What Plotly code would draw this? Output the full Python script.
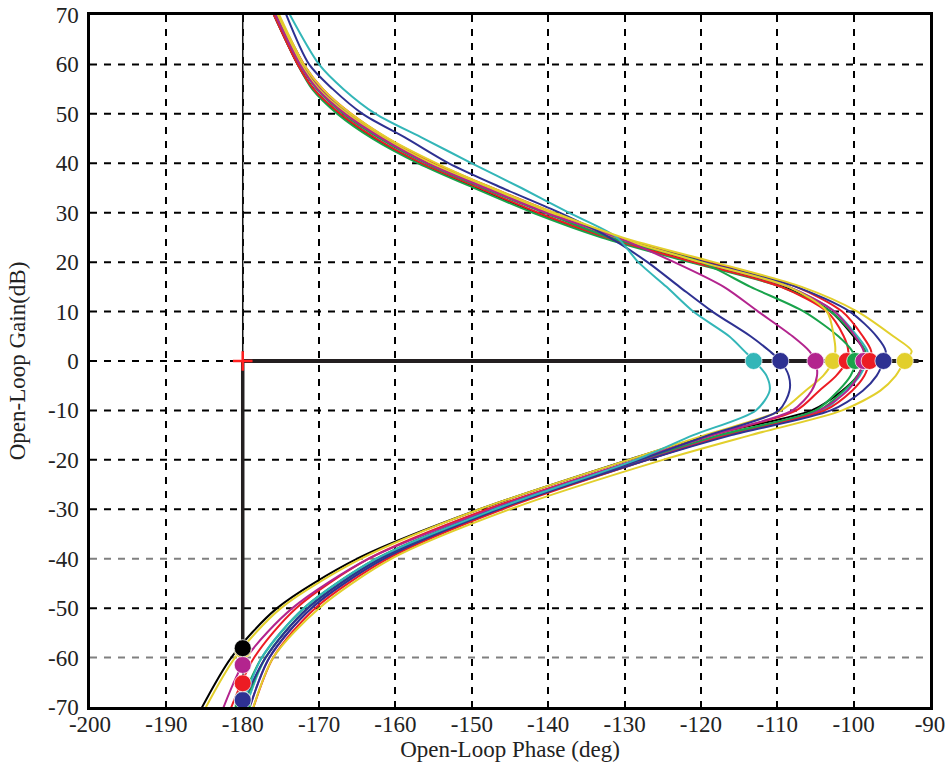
import plotly.graph_objects as go

# ---------------- data ----------------
gain_db = [72, 60, 55, 50, 45, 40, 35, 30, 25, 20, 15, 10, 5, 2, 0, -3, -6, -10, -15, -20, -30, -40, -50, -60, -72]

cyan_a    = [-174.5, -170.0, -166.8, -162.6, -156.3, -150.0, -143.5, -137.3, -131.0, -128.2, -124.5, -121.0, -116.3, -114.3, -113.0, -111.4, -111.0, -112.8, -121.0, -128.5, -147.0, -162.5, -172.0, -177.5, -180.5]
navy_a    = [-174.8, -171.3, -168.2, -164.3, -158.5, -153.0, -146.0, -138.5, -132.0, -127.0, -122.8, -118.5, -113.5, -111.0, -109.6, -108.5, -108.4, -109.8, -119.0, -128.0, -147.0, -162.0, -171.5, -177.0, -180.8]
magenta_a = [-176.3, -172.5, -170.2, -166.6, -161.7, -155.8, -148.2, -140.3, -131.0, -123.5, -117.0, -112.5, -108.0, -105.8, -105.0, -104.8, -105.5, -108.0, -118.5, -128.5, -147.5, -163.5, -173.5, -179.5, -183.0]
yellow_a  = [-176.0, -172.3, -170.0, -166.3, -161.4, -155.3, -147.8, -139.8, -131.0, -120.0, -108.5, -103.5, -102.6, -102.4, -102.7, -104.0, -106.3, -109.5, -119.5, -129.5, -149.0, -164.5, -175.0, -181.0, -185.5]
red_a     = [-176.5, -172.8, -170.7, -167.2, -162.5, -156.5, -149.0, -141.3, -132.3, -121.0, -109.5, -103.5, -101.3, -100.7, -100.9, -102.3, -104.5, -107.5, -118.5, -128.5, -148.0, -163.5, -173.0, -178.5, -182.0]
green_a   = [-176.3, -172.5, -170.3, -166.8, -162.0, -156.0, -148.5, -140.5, -132.0, -120.0, -113.5, -106.5, -102.0, -100.2, -99.8, -100.4, -102.0, -105.0, -117.5, -128.0, -147.0, -162.0, -171.5, -177.0, -180.5]
magenta_b = [-176.0, -172.0, -169.8, -166.3, -161.5, -155.5, -148.0, -140.0, -131.5, -120.0, -108.5, -102.5, -99.8, -98.7, -98.7, -99.4, -100.8, -104.5, -117.0, -127.5, -146.5, -161.5, -171.0, -176.5, -179.5]
red_b     = [-176.0, -172.0, -169.5, -165.8, -161.0, -154.8, -147.3, -139.3, -130.8, -119.0, -107.5, -101.5, -98.8, -97.7, -97.9, -98.6, -100.2, -103.8, -116.5, -127.0, -146.0, -161.0, -170.5, -176.0, -179.0]
navy_b    = [-176.2, -172.3, -170.0, -166.4, -161.6, -155.5, -148.0, -140.0, -131.3, -119.5, -107.5, -100.5, -97.0, -95.8, -96.1, -97.0, -98.8, -103.0, -116.0, -127.0, -146.5, -161.5, -171.0, -176.5, -179.5]
yellow_b  = [-175.8, -172.0, -169.5, -165.8, -160.9, -154.6, -147.3, -139.2, -130.3, -118.3, -106.8, -99.5, -94.8, -92.4, -93.3, -94.5, -96.5, -101.5, -113.5, -125.0, -145.0, -160.5, -170.0, -176.0, -179.0]
black_c   = [-176.5, -172.8, -170.7, -167.3, -162.7, -156.8, -149.3, -141.5, -132.3, -120.5, -109.0, -103.0, -100.0, -98.5, -98.5, -99.5, -101.5, -105.5, -119.0, -129.5, -149.0, -165.0, -175.5, -181.5, -186.0]
cyan_b    = [-176.0, -172.0, -169.7, -166.2, -161.4, -155.3, -147.8, -139.8, -131.0, -120.0, -108.5, -102.5, -99.5, -98.2, -98.3, -99.2, -101.0, -104.0, -117.0, -127.0, -146.5, -162.0, -171.5, -177.0, -180.0]
green_b   = [-176.5, -172.8, -170.9, -167.6, -163.0, -157.0, -149.7, -142.0, -133.0, -121.5, -109.5, -103.0, -99.8, -98.5, -98.6, -99.5, -101.3, -104.5, -117.5, -127.5, -147.0, -162.5, -172.0, -177.5, -181.0]

CYAN, NAVY, MAGENTA, YELLOW, RED, GREEN, BLACK = "#33b6b8", "#2e3192", "#b3248e", "#e2cf2c", "#ec1c24", "#19a34b", "#000000"

# curves in drawing order: (phase list, colour)
curves = [
    (black_c, BLACK), (green_b, GREEN), (cyan_b, CYAN), (magenta_b, MAGENTA),
    (red_b, RED), (navy_b, NAVY), (red_a, RED), (green_a, GREEN),
    (yellow_a, YELLOW), (magenta_a, MAGENTA), (navy_a, NAVY), (cyan_a, CYAN),
    (yellow_b, YELLOW),
]

# 0 dB crossing markers (phase), in drawing order
pm_phase  = [-98.5, -98.3, -98.6, -113.1, -109.6, -105.0, -102.7, -100.9, -99.8, -98.7, -97.9, -96.1, -93.3]
pm_colors = [BLACK, CYAN, GREEN, CYAN, NAVY, MAGENTA, YELLOW, RED, GREEN, MAGENTA, RED, NAVY, YELLOW]

# -180 deg crossing markers (gain), in drawing order
gm_gain   = [-58.5, -68.5, -70.0, -68.6, -65.2, -61.5, -58.1]
gm_colors = [YELLOW, GREEN, GREEN, NAVY, RED, MAGENTA, BLACK]

crit_phase = -180
zero_gain = 0
zero_line_end = -91.5
top_gain = 70

x_ticks = list(range(-200, -89, 10))
y_ticks = list(range(-70, 71, 10))
x_ticktext = [str(v) for v in x_ticks]
y_ticktext = [str(v) for v in y_ticks]

FONT = "Liberation Serif, Times New Roman, serif"

fig = go.Figure()

for ph, col in curves:
    fig.add_trace(go.Scatter(x=ph, y=gain_db, mode="lines",
                             line=dict(color=col, width=2, shape="spline", smoothing=0.8),
                             hoverinfo="skip", showlegend=False))

# reference lines
fig.add_trace(go.Scatter(x=[crit_phase, crit_phase], y=[zero_gain, top_gain], mode="lines",
                         line=dict(color="#111", width=1.5), showlegend=False, hoverinfo="skip"))
fig.add_trace(go.Scatter(x=[crit_phase, crit_phase], y=[max(gm_gain), zero_gain], mode="lines",
                         line=dict(color="#231f20", width=3.5), showlegend=False, hoverinfo="skip"))
fig.add_trace(go.Scatter(x=[crit_phase, zero_line_end], y=[zero_gain, zero_gain], mode="lines",
                         line=dict(color="#231f20", width=4), showlegend=False, hoverinfo="skip"))

# markers
fig.add_trace(go.Scatter(x=pm_phase, y=[zero_gain] * len(pm_phase), mode="markers",
                         marker=dict(size=17, color=pm_colors, line=dict(color="rgba(255,255,255,0.7)", width=1)),
                         showlegend=False, hoverinfo="skip"))
fig.add_trace(go.Scatter(x=[crit_phase] * len(gm_gain), y=gm_gain, mode="markers",
                         marker=dict(size=17, color=gm_colors, line=dict(color="rgba(255,255,255,0.7)", width=1)),
                         showlegend=False, hoverinfo="skip"))
fig.add_trace(go.Scatter(x=[crit_phase], y=[zero_gain], mode="markers",
                         marker=dict(symbol="cross-thin", size=14, line=dict(color="#ff2020", width=2.5)),
                         showlegend=False, hoverinfo="skip"))

# horizontal grid lines as shapes (two lighter ones as in the reference)
shapes = []
for v in y_ticks[1:-1]:
    col = "#808080" if v in (-40, -60) else "#000000"
    shapes.append(dict(type="line", xref="paper", yref="y", x0=0, x1=1, y0=v, y1=v,
                       line=dict(color=col, width=2, dash="7px,7px"), layer="below"))

fig.update_layout(
    width=945, height=765,
    margin=dict(l=90, r=15, t=15, b=58),
    paper_bgcolor="white", plot_bgcolor="white",
    font=dict(family=FONT, size=23, color="#222"),
    shapes=shapes,
    xaxis=dict(range=[-200, -90], tickvals=x_ticks, ticktext=x_ticktext,
               showgrid=True, gridcolor="#000", gridwidth=2, griddash="7px,7px",
               showline=True, linecolor="#000", linewidth=2.5, mirror=True,
               ticks="", ticklen=0, zeroline=False, automargin=False, ticklabelstandoff=-5,
               ticklabeloverflow="allow",
               tickfont=dict(size=23),
               title=dict(text="Open-Loop Phase (deg)", standoff=5, font=dict(size=23))),
    yaxis=dict(range=[-70, 70], tickvals=y_ticks, ticktext=y_ticktext,
               showgrid=False,
               showline=True, linecolor="#000", linewidth=2.5, mirror=True,
               ticks="", ticklen=0, zeroline=False, automargin=False, ticklabelstandoff=4,
               ticklabeloverflow="allow",
               tickfont=dict(size=23),
               title=dict(text="Open-Loop Gain(dB)", standoff=16, font=dict(size=23))),
)

# remove the browser's default 8 px body margin so the figure fills the window exactly
fig.write_html("out.html", config={"displayModeBar": False},
               post_script="document.body.style.margin='0';document.body.style.overflow='hidden';")
